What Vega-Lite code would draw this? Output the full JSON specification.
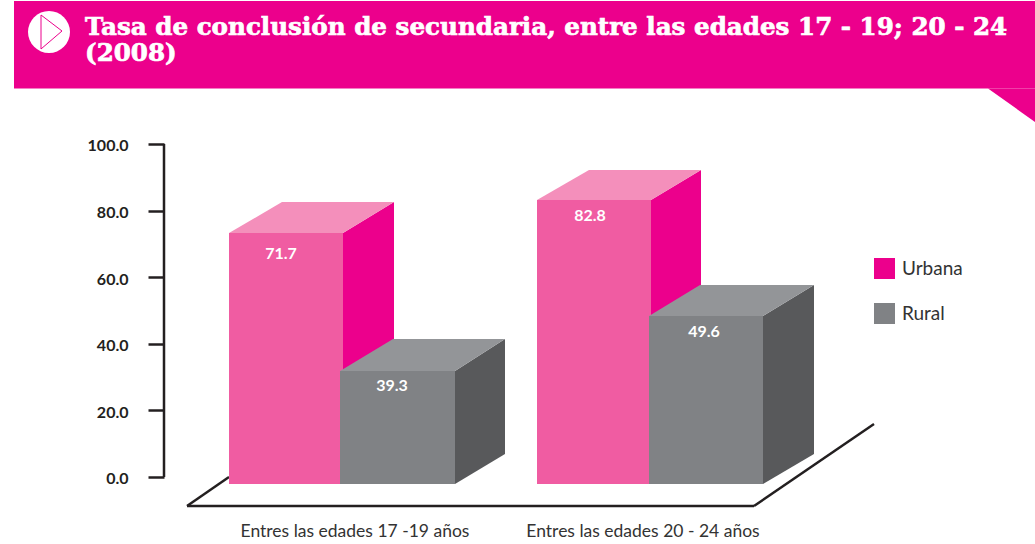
{
"$schema":"https://vega.github.io/schema/vega-lite/v6.json",
"width":1035,"height":544,
"autosize":{"type":"fit","contains":"padding"},
"padding":0,
"background":"white",
"config":{"view":{"stroke":null},"font":"Lato"},
"datasets":{
"cabecera":[{"x":14,"x2":1035,"y":142.94,"y2":116.67}],
"pliegue":[{"x":988,"y":116.67,"y2":116.67},{"x":1035,"y":116.67,"y2":106.61}],
"icono":[{"x":49,"y":133.63}],
"triangulo":[{"x":41,"y":138.74,"x2":41,"y2":128.53},{"x":41,"y":138.74,"x2":62,"y2":133.93},{"x":41,"y":128.53,"x2":62,"y2":133.93}],
"titulo":[{"x":85,"y":134.8,"texto":"Tasa de conclusión de secundaria, entre las edades 17 - 19; 20 - 24\n(2008)"}],
"trazos":[{"x":164,"y":0,"x2":164,"y2":100},{"x":229,"y":0,"x2":187,"y2":-8.71},{"x":187,"y":-8.71,"x2":754,"y2":-8.71},{"x":754,"y":-8.71,"x2":874,"y2":15.92}],
"frentes":[
{"grupo":"Entres las edades 17 -19 años","serie":"Urbana","x":229,"x2":343,"y":73.27,"y2":-2.1},
{"grupo":"Entres las edades 17 -19 años","serie":"Rural","x":340,"x2":455,"y":31.83,"y2":-2.1},
{"grupo":"Entres las edades 20 - 24 años","serie":"Urbana","x":537,"x2":651,"y":83.18,"y2":-2.1},
{"grupo":"Entres las edades 20 - 24 años","serie":"Rural","x":649,"x2":763,"y":48.35,"y2":-2.1}],
"caras":[
{"barra":"U1","serie":"Urbana","cara":"lateral","x":343,"y":73.27,"y2":-2.1},
{"barra":"U1","serie":"Urbana","cara":"lateral","x":394,"y":82.58,"y2":6.91},
{"barra":"U1","serie":"Urbana","cara":"superior","x":229,"y":73.27,"y2":73.27},
{"barra":"U1","serie":"Urbana","cara":"superior","x":282,"y":82.58,"y2":73.27},
{"barra":"U1","serie":"Urbana","cara":"superior","x":343,"y":82.58,"y2":73.27},
{"barra":"U1","serie":"Urbana","cara":"superior","x":394,"y":82.58,"y2":82.58},
{"barra":"U2","serie":"Urbana","cara":"lateral","x":651,"y":83.18,"y2":-2.1},
{"barra":"U2","serie":"Urbana","cara":"lateral","x":701,"y":92.19,"y2":6.91},
{"barra":"U2","serie":"Urbana","cara":"superior","x":537,"y":83.18,"y2":83.18},
{"barra":"U2","serie":"Urbana","cara":"superior","x":589,"y":92.19,"y2":83.18},
{"barra":"U2","serie":"Urbana","cara":"superior","x":651,"y":92.19,"y2":83.18},
{"barra":"U2","serie":"Urbana","cara":"superior","x":701,"y":92.19,"y2":92.19},
{"barra":"R1","serie":"Rural","cara":"lateral","x":455,"y":31.83,"y2":-2.1},
{"barra":"R1","serie":"Rural","cara":"lateral","x":505,"y":41.44,"y2":6.91},
{"barra":"R1","serie":"Rural","cara":"superior","x":340,"y":31.83,"y2":31.83},
{"barra":"R1","serie":"Rural","cara":"superior","x":393,"y":41.44,"y2":31.83},
{"barra":"R1","serie":"Rural","cara":"superior","x":455,"y":41.44,"y2":31.83},
{"barra":"R1","serie":"Rural","cara":"superior","x":505,"y":41.44,"y2":41.44},
{"barra":"R2","serie":"Rural","cara":"lateral","x":763,"y":48.35,"y2":-2.1},
{"barra":"R2","serie":"Rural","cara":"lateral","x":814,"y":57.66,"y2":6.91},
{"barra":"R2","serie":"Rural","cara":"superior","x":649,"y":48.35,"y2":48.35},
{"barra":"R2","serie":"Rural","cara":"superior","x":700,"y":57.66,"y2":48.35},
{"barra":"R2","serie":"Rural","cara":"superior","x":763,"y":57.66,"y2":48.35},
{"barra":"R2","serie":"Rural","cara":"superior","x":814,"y":57.66,"y2":57.66}],
"valores":[
{"serie":"Urbana","valor":71.7,"x":281,"y":66.97},
{"serie":"Rural","valor":39.3,"x":392,"y":27.33},
{"serie":"Urbana","valor":82.8,"x":590,"y":78.38},
{"serie":"Rural","valor":49.6,"x":704,"y":43.54}],
"categorias":[
{"texto":"Entres las edades 17 -19 años","x":355,"y":-16.5},
{"texto":"Entres las edades 20 - 24 años","x":643,"y":-16.5}]
},
"encoding":{
"x":{"field":"x","type":"quantitative","scale":{"domain":[0,1035],"nice":false,"zero":false},"axis":null},
"y":{"field":"y","type":"quantitative","stack":null,"scale":{"domain":[-20.12,143.24],"nice":false,"zero":false},
"axis":{"title":null,"orient":"left","offset":-164,"values":[0,20,40,60,80,100],"format":".1f","domain":false,"grid":false,"tickSize":16,"tickWidth":2.5,"tickColor":"#231f20","labelFont":"Lato","labelFontWeight":"bold","labelFontSize":16,"labelColor":"#231f20","labelPadding":20,"labelOffset":2}}
},
"layer":[
{"data":{"name":"cabecera"},"mark":{"type":"rect","color":"#ec008c"},"encoding":{"x2":{"field":"x2"},"y2":{"field":"y2"}}},
{"data":{"name":"pliegue"},"mark":{"type":"area","color":"#ec008c"},"encoding":{"y2":{"field":"y2"}}},
{"data":{"name":"icono"},"mark":{"type":"point","shape":"circle","filled":true,"color":"white","opacity":1,"size":1764}},
{"data":{"name":"triangulo"},"mark":{"type":"rule","color":"#ec008c","strokeWidth":1},"encoding":{"x2":{"field":"x2"},"y2":{"field":"y2"}}},
{"data":{"name":"titulo"},"mark":{"type":"text","font":"DejaVu Serif","fontWeight":"bold","fontSize":24.6,"color":"white","stroke":"white","strokeWidth":0.7,"align":"left","baseline":"middle","lineBreak":"\n","lineHeight":26},"encoding":{"text":{"field":"texto"}}},
{"data":{"name":"trazos"},"mark":{"type":"rule","color":"#231f20","strokeWidth":2.5},"encoding":{"x2":{"field":"x2"},"y2":{"field":"y2"}}},
{"data":{"name":"frentes"},"mark":{"type":"rect"},"encoding":{"x2":{"field":"x2"},"y2":{"field":"y2"},
"color":{"field":"serie","type":"nominal","scale":{"domain":["Urbana","Rural"],"range":["#ec008c","#808285"]},
"legend":{"title":null,"orient":"none","legendX":874,"legendY":258,"symbolType":"square","symbolSize":441,"symbolStrokeWidth":0,"rowPadding":24,"labelFont":"Lato","labelFontSize":19,"labelColor":"#333333","labelOffset":7}}}},
{"data":{"name":"frentes"},"transform":[{"filter":"datum.serie==='Urbana'"}],"mark":{"type":"rect","color":"#f05ca2"},"encoding":{"x2":{"field":"x2"},"y2":{"field":"y2"}}},
{"data":{"name":"caras"},"transform":[{"filter":"datum.serie==='Urbana'&&datum.cara==='lateral'"}],"mark":{"type":"area","color":"#ec008c"},"encoding":{"y2":{"field":"y2"},"detail":{"field":"barra"}}},
{"data":{"name":"caras"},"transform":[{"filter":"datum.serie==='Urbana'&&datum.cara==='superior'"}],"mark":{"type":"area","color":"#f48fbb"},"encoding":{"y2":{"field":"y2"},"detail":{"field":"barra"}}},
{"data":{"name":"frentes"},"transform":[{"filter":"datum.serie==='Rural'"}],"mark":{"type":"rect","color":"#808285"},"encoding":{"x2":{"field":"x2"},"y2":{"field":"y2"}}},
{"data":{"name":"caras"},"transform":[{"filter":"datum.serie==='Rural'&&datum.cara==='lateral'"}],"mark":{"type":"area","color":"#58595b"},"encoding":{"y2":{"field":"y2"},"detail":{"field":"barra"}}},
{"data":{"name":"caras"},"transform":[{"filter":"datum.serie==='Rural'&&datum.cara==='superior'"}],"mark":{"type":"area","color":"#939598"},"encoding":{"y2":{"field":"y2"},"detail":{"field":"barra"}}},
{"data":{"name":"valores"},"mark":{"type":"text","font":"Lato","fontWeight":"bold","fontSize":16,"color":"white","align":"center","baseline":"middle"},"encoding":{"text":{"field":"valor","type":"quantitative","format":".1f"}}},
{"data":{"name":"categorias"},"mark":{"type":"text","font":"Lato","fontSize":17.5,"color":"#333333","align":"center","baseline":"middle"},"encoding":{"text":{"field":"texto"}}}
]
}
